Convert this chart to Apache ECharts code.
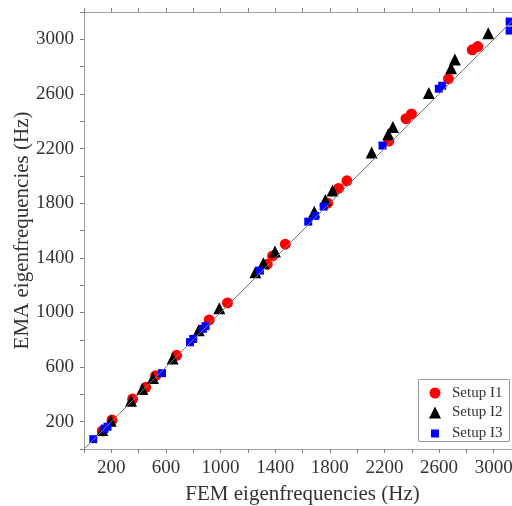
<!DOCTYPE html>
<html><head><meta charset="utf-8">
<script src="https://cdn.jsdelivr.net/npm/echarts@6/dist/echarts.min.js"></script>
<style>html,body{margin:0;padding:0;background:#fff}#c{width:512px;height:506px}</style>
</head><body><div id="c"></div>
<script>
// Setup I1 (FEM, EMA) pairs
const setupI1 = [[134,132],[205,212],[356,366],[452,452],[525,537],[678,686],[917,945],[1051,1070],[1342,1353],[1381,1414],[1474,1500],[1784,1800],[1864,1908],[1925,1964],[2232,2255],[2358,2419],[2398,2454],[2669,2710],[2843,2923],[2883,2947]];
// Setup I2
const setupI2 = [[134,139],[195,207],[344,354],[427,440],[505,520],[649,662],[840,870],[991,1030],[1255,1295],[1313,1360],[1398,1447],[1686,1738],[1767,1824],[1820,1892],[2106,2171],[2228,2305],[2262,2357],[2525,2606],[2688,2789],[2716,2852],[2960,3045]];
// Setup I3
const setupI3 = [[68,72],[150,148],[172,163],[571,555],[776,782],[800,806],[870,880],[890,900],[1288,1306],[1642,1665],[1693,1707],[1755,1775],[2186,2222],[2598,2638],[2623,2660],[3117,3130],[3117,3064]];
const refLine = [[0,0],[3200,3200]];
const axisMin = 0, axisMax = 3200, tickStep = 200;
const shownLabels = [200,600,1000,1400,1800,2200,2600,3000];

const font = 'Liberation Serif';
const lab = v => shownLabels.includes(v) ? String(v) : '';
const axisCommon = {
  type:'value', min:axisMin, max:axisMax, interval:tickStep,
  axisLine:{show:true, onZero:false, lineStyle:{color:'#a0a0a0', width:1}},
  axisTick:{show:true, inside:false, length:4, lineStyle:{color:'#808080'}},
  splitLine:{show:false}
};
const chart = echarts.init(document.getElementById('c'), null, {renderer:'canvas'});
const leg = (name, icon, size, top) => ({
  data:[{name, icon}], orient:'vertical', left:435-size/2, top:top-size/2, padding:0,
  itemWidth:size, itemHeight:size, selectedMode:false,
  textStyle:{fontFamily:font, fontSize:15, color:'#333', padding:[0,0,0,17-size/2-5]}
});
chart.setOption({
  animation:false,
  grid:{left:84, right:-9, top:12, bottom:57, outerBoundsMode:'none', containLabel:false},
  xAxis:[
    Object.assign({}, axisCommon, {position:'bottom', name:'FEM eigenfrequencies (Hz)', nameLocation:'middle', nameGap:35, nameMoveOverlap:false,
      nameTextStyle:{fontFamily:font, fontSize:21, color:'#333'},
      axisLabel:{formatter:lab, fontFamily:font, fontSize:19, color:'#333', margin:10, showMinLabel:true, showMaxLabel:true}}),
    Object.assign({}, axisCommon, {position:'top', axisLabel:{show:false}})
  ],
  yAxis:[
    Object.assign({}, axisCommon, {position:'left', name:'EMA eigenfrequencies (Hz)', nameLocation:'middle', nameGap:51, nameMoveOverlap:false,
      nameTextStyle:{fontFamily:font, fontSize:21, color:'#333'},
      axisLabel:{formatter:lab, fontFamily:font, fontSize:19, color:'#333', margin:10}})
  ],
  legend:[
    leg('Setup I1','circle',11,391),
    leg('Setup I2','triangle',12,411),
    leg('Setup I3','rect',8,430)
  ],
  graphic:[{type:'rect', shape:{x:418.5, y:379.5, width:91, height:62}, style:{fill:null, stroke:'#999', lineWidth:1}, z:-1}],
  series:[
    {name:'Setup I1', type:'scatter', data:setupI1, symbol:'circle', symbolSize:11, itemStyle:{color:'#ff0000', opacity:1}, z:2},
    {name:'Setup I2', type:'scatter', data:setupI2, symbol:'triangle', symbolSize:12, itemStyle:{color:'#000000', opacity:1}, z:3},
    {name:'Setup I3', type:'scatter', data:setupI3, symbol:'rect', symbolSize:8, itemStyle:{color:'#0000ff', opacity:1}, z:4},
    {name:'ref', type:'line', data:refLine, showSymbol:false, symbol:'none', silent:true, lineStyle:{color:'#7a7a7a', width:1}, z:5}
  ]
});
</script></body></html>
